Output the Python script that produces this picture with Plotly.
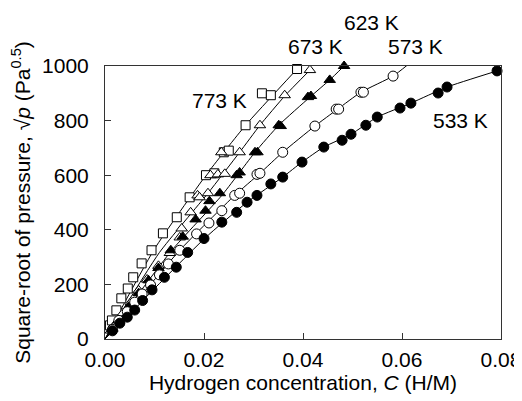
import plotly.graph_objects as go

# ---- data ----
c_533 = [0.0015, 0.0030, 0.0045, 0.0060, 0.0076, 0.0095, 0.0120, 0.0144, 0.0167, 0.0200, 0.0236, 0.0266,
         0.0287, 0.0307, 0.0335, 0.0359, 0.0398, 0.0442, 0.0479, 0.0497, 0.0527, 0.0550, 0.0596, 0.0618,
         0.0673, 0.0691, 0.0792]
p_533 = [30, 58, 80, 106, 141, 180, 226, 263, 317, 368, 428, 464, 501, 526, 568, 593, 648, 703, 728, 750,
         783, 813, 846, 864, 901, 923, 982]

c_573 = [0.0015, 0.0028, 0.0045, 0.0060, 0.0075, 0.0092, 0.0110, 0.0128, 0.0151, 0.0185, 0.0210, 0.0236,
         0.0262, 0.0272, 0.0307, 0.0313, 0.0359, 0.0424, 0.0467, 0.0472, 0.0517, 0.0522, 0.0582, 0.0610, 0.0617]
p_573 = [35, 68, 100, 135, 165, 198, 235, 275, 325, 385, 425, 470, 526, 534, 603, 607, 684, 780, 842, 842,
         904, 904, 963, 1005, 1008]

c_623 = [0.0015, 0.0028, 0.0048, 0.0068, 0.0088, 0.0108, 0.0133, 0.0157, 0.0183, 0.0203, 0.0211, 0.0232,
         0.0266, 0.0272, 0.0303, 0.0308, 0.0351, 0.0355, 0.0410, 0.0416, 0.0454, 0.0483]
p_623 = [38, 68, 118, 168, 215, 260, 325, 375, 438, 470, 505, 534, 600, 610, 684, 684, 783, 780, 886, 890,
         949, 1000]

c_673 = [0.0012, 0.0022, 0.0036, 0.0052, 0.0068, 0.0085, 0.0108, 0.0131, 0.0151, 0.0155, 0.0173, 0.0187,
         0.0191, 0.0208, 0.0213, 0.0228, 0.0235, 0.0242, 0.0272, 0.0313, 0.0363, 0.0414, 0.0414, 0.0436]
p_673 = [31, 57, 94, 134, 178, 218, 268, 315, 372, 405, 464, 526, 519, 534, 600, 603, 684, 605, 684, 783,
         893, 985, 1015, 1015]

c_773 = [0.0010, 0.0014, 0.0023, 0.0033, 0.0046, 0.0057, 0.0074, 0.0094, 0.0117, 0.0145, 0.0171, 0.0204,
         0.0221, 0.0240, 0.0250, 0.0284, 0.0317, 0.0335, 0.0355, 0.0388, 0.0402]
p_773 = [50, 68, 105, 149, 185, 226, 277, 325, 387, 446, 519, 600, 607, 684, 690, 783, 900, 893, 1015, 989, 1015]

# fitted curves as drawn in the reference
fit_c_533 = [0, 0.0201, 0.0287, 0.0359, 0.0398, 0.0442, 0.0497, 0.0550, 0.0618, 0.0691, 0.0792]
fit_p_533 = [0, 368, 501, 593, 648, 703, 750, 813, 864, 923, 982]
fit_c_573 = [0, 0.0151, 0.0262, 0.0313, 0.0359, 0.0424, 0.0470, 0.0517, 0.0582, 0.0612]
fit_p_573 = [0, 325, 526, 607, 684, 780, 842, 904, 963, 1005]
fit_c_623 = [0, 0.0135, 0.0236, 0.0303, 0.0351, 0.0414, 0.0454, 0.0483]
fit_p_623 = [0, 325, 526, 684, 783, 886, 949, 1000]
fit_c_673 = [0, 0.0110, 0.0208, 0.0272, 0.0313, 0.0363, 0.0414]
fit_p_673 = [0, 317, 534, 684, 783, 890, 985]
fit_c_773 = [0, 0.0100, 0.0204, 0.0284, 0.0388]
fit_p_773 = [0, 330, 600, 783, 989]

labels = ["533 K", "573 K", "623 K", "673 K", "773 K"]
label_c = [0.0719, 0.0628, 0.0539, 0.0426, 0.0232]
label_p = [802, 1070, 1158, 1073, 875]

x_ticks = [0, 0.02, 0.04, 0.06, 0.08]
x_ticktext = ["0.00", "0.02", "0.04", "0.06", "0.08"]
y_ticks = [0, 200, 400, 600, 800, 1000]
Y_MAX = 1000

FONT = "Liberation Sans, Arial, sans-serif"
FS = 21
fig = go.Figure()

fits = [(fit_c_533, fit_p_533), (fit_c_573, fit_p_573), (fit_c_623, fit_p_623),
        (fit_c_673, fit_p_673), (fit_c_773, fit_p_773)]
for fc, fp in fits:
    fig.add_trace(go.Scatter(x=fc, y=fp, mode="lines",
                             line=dict(color="black", width=1, shape="spline", smoothing=0.5),
                             showlegend=False, hoverinfo="skip"))

series = [
    (c_773, p_773, "square", "white", 9),
    (c_673, p_673, "triangle-up", "white", 10),
    (c_623, p_623, "triangle-up", "black", 10),
    (c_573, p_573, "circle", "white", 10),
    (c_533, p_533, "circle", "black", 10),
]
for c, p, sym, fill, sz in series:
    fig.add_trace(go.Scatter(x=c, y=p, mode="markers",
                             marker=dict(symbol=sym, color=fill, size=sz, line=dict(color="black", width=1)),
                             showlegend=False, cliponaxis=False))

for t, xc, yp in zip(labels, label_c, label_p):
    fig.add_annotation(x=xc, y=yp / Y_MAX, xref="x", yref="paper", text=t, showarrow=False,
                       font=dict(family=FONT, size=FS, color="black"),
                       xanchor="center", yanchor="middle")

axis_common = dict(showline=True, linecolor="#333333", linewidth=1, mirror=True, ticks="inside", ticklen=6,
                   tickcolor="#333333", showgrid=False, zeroline=False, automargin=False,
                   tickfont=dict(family=FONT, size=FS, color="black"))

# page has an 8px body margin, so the figure is sized to fit the 522x401 window
fig.update_layout(
    width=514, height=393,
    margin=dict(l=97, r=21, t=58, b=62),
    plot_bgcolor="white", paper_bgcolor="white",
    xaxis=dict(range=[0, 0.08], tickvals=x_ticks, ticktext=x_ticktext, ticklabelstandoff=2,
               title=dict(text="Hydrogen concentration, <i>C</i> (H/M)", font=dict(family=FONT, size=FS, color="black"),
                          standoff=2),
               **axis_common),
    yaxis=dict(range=[0, Y_MAX], tickvals=y_ticks, ticklabelstandoff=11,
               title=dict(text="Square-root of pressure, √<i>p</i> (Pa<sup>0.5</sup>)",
                          font=dict(family=FONT, size=FS, color="black"), standoff=6),
               **axis_common),
)

fig.write_html("out.html")
